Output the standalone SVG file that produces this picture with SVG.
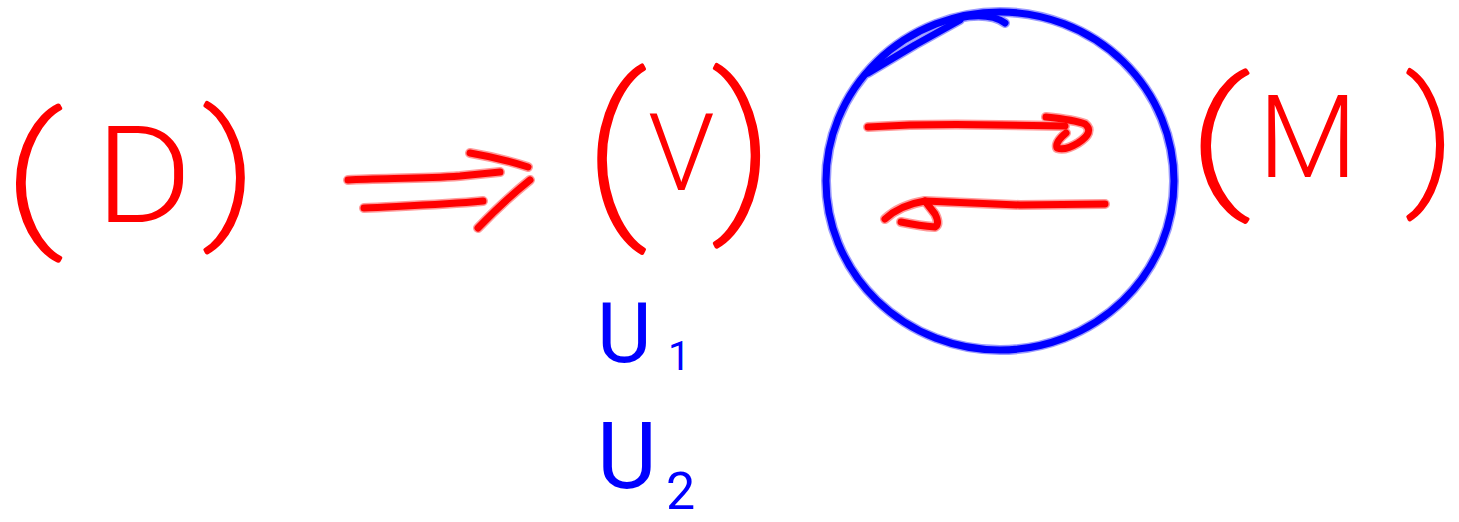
<svg xmlns="http://www.w3.org/2000/svg" width="1459" height="522" viewBox="0 0 1459 522">
<style>
.r{fill:none;stroke:#ff0000;stroke-width:7;stroke-linecap:round;stroke-linejoin:round}
.rh{fill:none;stroke:#ff9a9a;stroke-width:10;stroke-linecap:round;stroke-linejoin:round}
.b{fill:none;stroke:#0000ff;stroke-width:7;stroke-linecap:round;stroke-linejoin:round}
.bh{fill:none;stroke:#9a9aff;stroke-width:10;stroke-linecap:round;stroke-linejoin:round}
.tr{fill:#ff0000;font-family:Roboto,"Liberation Sans",sans-serif;font-weight:300}
.tp{fill:#ff0000;stroke:#ff0000;stroke-width:3.5;stroke-linejoin:round;font-family:Roboto,"Liberation Sans",sans-serif;font-weight:100}
.tb{fill:#0000ff;font-family:Roboto,"Liberation Sans",sans-serif;font-weight:400}
</style>
<rect width="1459" height="522" fill="#ffffff"/>
<g id="node-D">
<text class="tp" x="4" y="226" font-size="152" transform="translate(4 0) scale(1.3 1) translate(-4 0)">(</text>
<text class="tr" x="95" y="222" font-size="135" transform="translate(95 0) scale(1.1 1) translate(-95 0)">D</text>
<text class="tp" x="203" y="219" font-size="147" transform="translate(203 0) scale(1.2 1) translate(-203 0)">)</text>
</g>
<g id="node-V">
<text class="tp" x="584" y="211" font-size="184" transform="translate(584 0) scale(1.15 1) translate(-584 0)">(</text>
<text class="tr" x="648" y="190" font-size="108">V</text>
<text class="tp" x="712" y="206" font-size="178" transform="translate(712 0) scale(1.15 1) translate(-712 0)">)</text>
</g>
<g id="node-U">
<text class="tb" x="597" y="362" font-size="84">U</text>
<text class="tb" x="668" y="370" font-size="40">1</text>
<text class="tb" x="597" y="488" font-size="92">U</text>
<text class="tb" x="666" y="509" font-size="52">2</text>
</g>
<g id="node-M">
<text class="tp" x="1188" y="188" font-size="149" transform="translate(1188 0) scale(1.4 1) translate(-1188 0)">(</text>
<text class="tr" x="1258" y="177" font-size="115">M</text>
<text class="tp" x="1406" y="186" font-size="146" transform="translate(1406 0) scale(1.1 1) translate(-1406 0)">)</text>
</g>
<g id="node-equilibrium">
<ellipse class="bh" cx="1000" cy="181" rx="174" ry="169"/>
<path class="bh" d="M868,73 L915,45 L960,20 M958,18 Q990,12 1005,23"/>
<ellipse class="b" cx="1000" cy="181" rx="174" ry="169"/>
<path class="b" d="M868,73 L915,45 L960,20 M958,18 Q990,12 1005,23"/>
</g>
<g id="connectors">
<g class="rh">
<path d="M348,180 C380,178 420,179 460,176 L500,172"/>
<path d="M364,208 C400,206 440,205 483,201"/>
<path d="M470,153 Q500,158 528,167"/>
<path d="M530,180 Q505,200 478,228"/>
<path d="M868,127 C900,125 950,124 1000,125 L1065,126"/>
<path d="M1046,117 Q1075,120 1085,124 Q1095,132 1078,143 Q1065,151 1057,148 Q1055,142 1066,133"/>
<path d="M1105,204 L1020,205 L925,201 Q900,205 885,219"/>
<path d="M901,222 Q920,226 935,227 Q940,224 935,214 L925,201"/>
</g>
<g class="r">
<path d="M348,180 C380,178 420,179 460,176 L500,172"/>
<path d="M364,208 C400,206 440,205 483,201"/>
<path d="M470,153 Q500,158 528,167"/>
<path d="M530,180 Q505,200 478,228"/>
<path d="M868,127 C900,125 950,124 1000,125 L1065,126"/>
<path d="M1046,117 Q1075,120 1085,124 Q1095,132 1078,143 Q1065,151 1057,148 Q1055,142 1066,133"/>
<path d="M1105,204 L1020,205 L925,201 Q900,205 885,219"/>
<path d="M901,222 Q920,226 935,227 Q940,224 935,214 L925,201"/>
</g>
</g>
</svg>
